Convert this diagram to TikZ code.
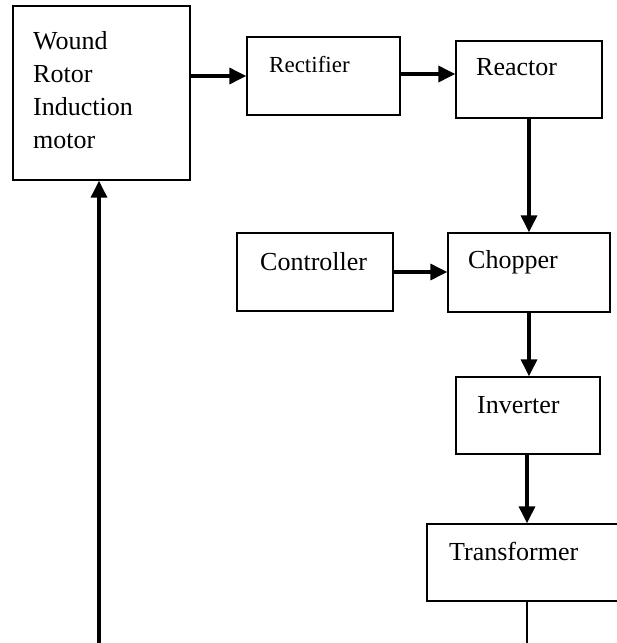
\documentclass[tikz,border=0pt]{standalone}
\usepackage{fontspec}
\setmainfont{Liberation Serif}
\usetikzlibrary{arrows.meta}
\begin{document}
\begin{tikzpicture}[x=1pt,y=-1pt,
  box/.style={draw, line width=1.3pt, inner sep=0pt},
  lbl/.style={anchor=base west, inner sep=0pt, font=\fontsize{26}{32}\selectfont},
  slbl/.style={anchor=base west, inner sep=0pt, font=\fontsize{23}{28}\selectfont},
  arr/.style={line width=3.2pt, -{Triangle[length=17pt,width=16pt]}},
  wire/.style={line width=1.2pt}]
\useasboundingbox (0,0) rectangle (617,643);
\begin{scope}
\clip (0,0) rectangle (617,643);
\node[box, minimum width=177pt, minimum height=174pt] (motor) at (101.5,93) {};
\node[box, minimum width=153pt, minimum height=78pt] (rect) at (323.5,76) {};
\node[box, minimum width=146pt, minimum height=77pt] (reactor) at (529,79.5) {};
\node[box, minimum width=156pt, minimum height=78pt] (ctrl) at (315,272) {};
\node[box, minimum width=162pt, minimum height=79pt] (chop) at (529,272.5) {};
\node[box, minimum width=144pt, minimum height=77pt] (inv) at (528,415.5) {};
\node[box, minimum width=233pt, minimum height=77pt] (trans) at (543.5,562.5) {};
\end{scope}
\node[lbl] (t1) at (33,49) {Wound};
\node[lbl] (t2) at (33,82) {Rotor};
\node[lbl] (t3) at (33,115) {Induction};
\node[lbl] (t4) at (33,148) {motor};
\node[slbl] (trect) at (269,72) {Rectifier};
\node[lbl] (treac) at (476,75) {Reactor};
\node[lbl] (tctrl) at (260,270) {Controller};
\node[lbl] (tchop) at (468,268) {Chopper};
\node[lbl] (tinv) at (477,413) {Inverter};
\node[lbl] (ttrans) at (449,560) {Transformer};
\coordinate (tend) at (527,643);
\coordinate (fstart) at (99,643);
\draw[arr] (motor.east |- rect.west) -- (rect.west);
\draw[arr] (rect.east |- 0,74) -- (reactor.west |- 0,74);
\draw[arr] (reactor.south) -- (chop.north);
\draw[arr] (ctrl.east) -- (ctrl.east -| chop.west);
\draw[arr] (chop.south) -- (chop.south |- inv.north);
\draw[arr] (inv.south -| tend) -- (trans.north -| tend);
\draw[wire] (trans.south -| tend) -- (tend);
\draw[arr] (fstart) -- (motor.south -| fstart);
\end{tikzpicture}
\end{document}
